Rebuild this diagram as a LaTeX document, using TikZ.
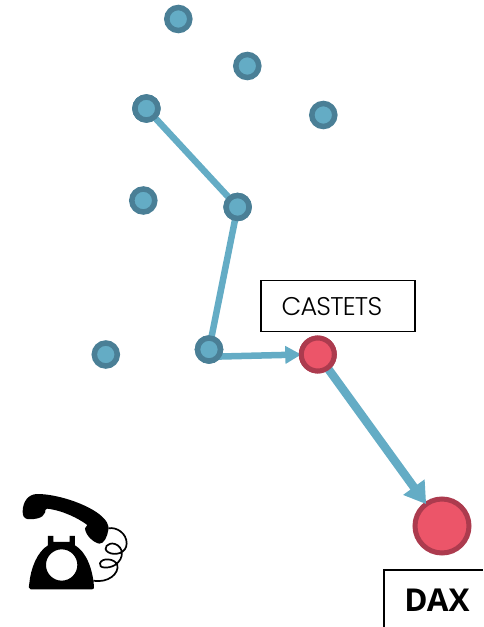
\documentclass[tikz,border=0pt]{standalone}
\usepackage{fontspec}
\setmainfont{Poppins Light}
\newfontfamily\daxfont{Open Sans}
\usetikzlibrary{arrows.meta}
\definecolor{linkblue}{HTML}{64ACC5}
\definecolor{dotedge}{HTML}{4A7F96}
\definecolor{redfill}{HTML}{EC5569}
\definecolor{rededge}{HTML}{AC3B4E}
\tikzset{
  x=1pt,y=-1pt,
  dot/.style={circle,draw=dotedge,fill=linkblue,line width=5.5pt,minimum size=23pt,inner sep=0pt,outer sep=0pt},
  reddot/.style={circle,draw=rededge,fill=redfill,line width=5pt,inner sep=0pt,outer sep=0pt},
  link/.style={draw=linkblue,line width=6.5pt},
  labelbox/.style={draw=black,line width=1.1pt,fill=white,inner sep=0pt,outer sep=0pt},
  phone/.style={fill=black,draw=none},
}
\begin{document}
\begin{tikzpicture}
\useasboundingbox (0,0) rectangle (483,627);
\node[dot] (a) at (178.3,19) {};
\node[dot] (b) at (247.3,66) {};
\node[dot] (c) at (146.4,108.5) {};
\node[dot] (d) at (323.3,115) {};
\node[dot] (e) at (143.3,200.5) {};
\node[dot] (f) at (237.6,207) {};
\node[dot] (g) at (105.8,354.5) {};
\node[dot] (h) at (209,349.5) {};
\node[reddot,minimum size=33pt] (castets) at (317.8,354.5) {};
\node[reddot,minimum size=54pt] (dax) at (442,526) {};
% links
\draw[link] (c) -- (f);
\draw[link] (f) -- (h);
\draw[link,-{Triangle[length=16pt,width=17pt]}] (h.-38) -- (castets.west);
\draw[link,line width=8.5pt,-{Triangle[length=21pt,width=25pt]}] (castets) -- (dax);
% redraw dots over the line starts
\node[dot] at (c) {};
\node[dot] at (f) {};
\node[dot] at (h) {};
\node[reddot,minimum size=33pt] at (castets) {};
% labels
\node[labelbox,minimum width=154pt,minimum height=51pt] (castetslabel) at (338,306) {};
\node[font=\fontsize{25.6}{27}\selectfont\addfontfeature{LetterSpace=-3},anchor=west] (castetstext) at (278,306.5) {CASTETS};
\draw[labelbox] (384,627) -- (384,570) -- (483,570);
\node[font=\daxfont\bfseries\fontsize{31.5}{33}\selectfont] (daxtext) at (437,600) {DAX};
% telephone
\begin{scope}[shift={(0,470)},x=0.3333pt,y=-0.3333pt]
 \fill[phone] (68,125) .. controls (68,95) and (85,72) .. (112,72)
   .. controls (170,72) and (255,100) .. (297,132)
   .. controls (320,150) and (328,165) .. (325,180)
   .. controls (322,200) and (312,222) .. (298,221)
   .. controls (280,218) and (256,195) .. (255,175)
   .. controls (256,170) and (258,168) .. (262,165)
   .. controls (235,145) and (190,122) .. (142,116)
   .. controls (136,116) and (136,120) .. (135,128)
   .. controls (130,145) and (100,150) .. (82,147)
   .. controls (72,145) and (68,138) .. (68,125) -- cycle;
 \fill[phone,even odd rule] (92,358) .. controls (86,358) and (86,350) .. (88,340)
   .. controls (92,295) and (112,245) .. (144,226)
   -- (144,198) -- (160,198) -- (160,216)
   -- (209,216) -- (209,198) -- (225,198) -- (225,226)
   .. controls (258,245) and (278,295) .. (282,350)
   .. controls (283,356) and (280,358) .. (276,358) -- cycle
   (232,285) arc[start angle=0,end angle=360,radius=47];
 \draw[line width=1.7pt,black] (325,175)
   .. controls (350,170) and (380,190) .. (380,220)
   .. controls (380,250) and (345,258) .. (325,247)
   .. controls (305,235) and (325,215) .. (345,222)
   .. controls (370,230) and (375,265) .. (345,285)
   .. controls (325,297) and (295,295) .. (300,280)
   .. controls (305,262) and (345,265) .. (352,285)
   .. controls (358,310) and (325,340) .. (280,332);
\end{scope}
\end{tikzpicture}
\end{document}
